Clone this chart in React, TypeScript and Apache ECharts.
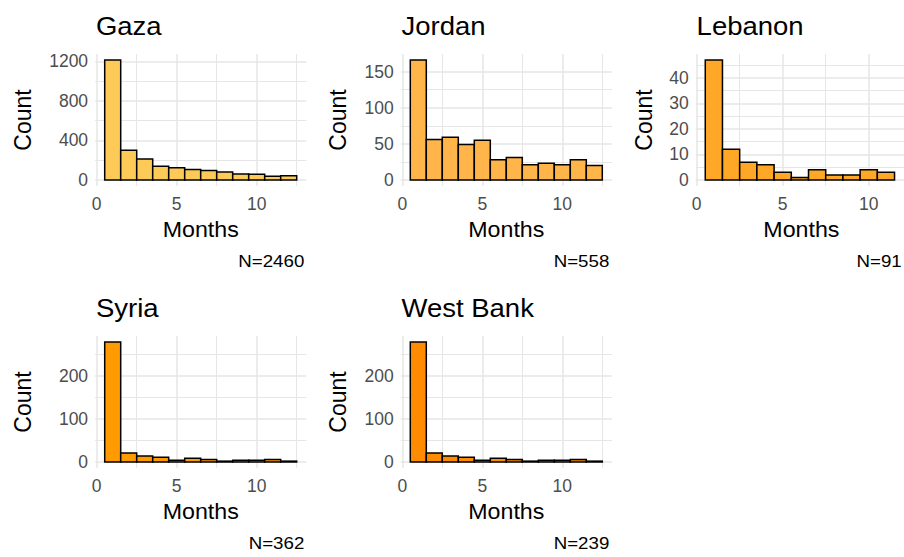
import React, { useEffect, useRef } from "react";
import * as echarts from "echarts";

// Histograms of months, one panel per region
const REGIONS = ["Gaza", "Jordan", "Lebanon", "Syria", "West Bank"];
const SAMPLE_SIZES = [2460, 558, 91, 362, 239];
const FILLS = ["#FECA57", "#FFB54A", "#FFA726", "#FF9A00", "#FF8C00"];

// bin centres (months), bin width 1
const MONTH_BINS = [1, 2, 3, 4, 5, 6, 7, 8, 9, 10, 11, 12];
const BIN_WIDTH = 1;

const GAZA_COUNTS = [1215, 300, 212, 138, 124, 106, 97, 80, 60, 57, 37, 42];
const JORDAN_COUNTS = [166, 56, 59, 49, 55, 28, 31, 21, 23, 21, 28, 20];
const LEBANON_COUNTS = [47, 12, 7, 6, 3, 1, 4, 2, 2, 4, 3];
const SYRIA_COUNTS = [279, 21, 14, 11, 4, 9, 6, 2, 4, 4, 6, 2];
const WEST_BANK_COUNTS = [279, 21, 14, 11, 4, 9, 6, 2, 4, 4, 6, 2];
const COUNTS = [GAZA_COUNTS, JORDAN_COUNTS, LEBANON_COUNTS, SYRIA_COUNTS, WEST_BANK_COUNTS];

// tick labels / grid breaks
const X_BREAKS = [0, 5, 10];
const X_MINOR_BREAKS = [2.5, 7.5, 12.5];
const GAZA_Y_BREAKS = [0, 400, 800, 1200];
const GAZA_Y_MINOR = [200, 600, 1000];
const JORDAN_Y_BREAKS = [0, 50, 100, 150];
const JORDAN_Y_MINOR = [25, 75, 125, 175];
const LEBANON_Y_BREAKS = [0, 10, 20, 30, 40];
const LEBANON_Y_MINOR = [5, 15, 25, 35, 45];
const SYRIA_Y_BREAKS = [0, 100, 200];
const SYRIA_Y_MINOR = [50, 150, 250];
const WEST_BANK_Y_BREAKS = [0, 100, 200];
const WEST_BANK_Y_MINOR = [50, 150, 250];
const Y_BREAKS = [GAZA_Y_BREAKS, JORDAN_Y_BREAKS, LEBANON_Y_BREAKS, SYRIA_Y_BREAKS, WEST_BANK_Y_BREAKS];
const Y_MINOR = [GAZA_Y_MINOR, JORDAN_Y_MINOR, LEBANON_Y_MINOR, SYRIA_Y_MINOR, WEST_BANK_Y_MINOR];

// layout
const PANEL_LEFT = [95.1, 400.7, 695.8, 95.1, 400.7];
const PANEL_TOP = [54, 54, 54, 336, 336];
const PANEL_W = 211.2;
const PANEL_H = 132;
const COUNT_X = [22.5, 338, 644, 22.5, 337.5];
const CAPTION_RIGHT = [304.3, 609.3, 901.7, 304.3, 609.3];

const FONT = "'Liberation Sans', Arial, Helvetica, sans-serif";
const GRID_COLOR = "#E6E6E6";
const TICK_COLOR = "#4D4D4D";

function buildOption() {
  const grid: any[] = [];
  const xAxis: any[] = [];
  const yAxis: any[] = [];
  const series: any[] = [];
  const graphic: any[] = [];

  REGIONS.forEach((region, i) => {
    const counts = COUNTS[i];
    const n = counts.length;
    const lo = MONTH_BINS[0] - BIN_WIDTH / 2;
    const hi = MONTH_BINS[n - 1] + BIN_WIDTH / 2;
    const xPad = (hi - lo) * 0.05;
    const xMin = lo - xPad;
    const xMax = hi + xPad;
    const yTop = Math.max(...counts);
    const yMin = -yTop * 0.05;
    const yMax = yTop * 1.05;

    grid.push({ left: PANEL_LEFT[i], top: PANEL_TOP[i], width: PANEL_W, height: PANEL_H, containLabel: false });

    const labelStyle = {
      fontSize: 17.5,
      color: TICK_COLOR,
      fontFamily: FONT,
      formatter: (v: number) => String(v),
    };
    xAxis.push({
      type: "value", gridIndex: i, min: xMin, max: xMax,
      axisLine: { show: false },
      axisTick: { show: false, customValues: X_BREAKS },
      axisLabel: { ...labelStyle, customValues: X_BREAKS, margin: 9 },
      splitLine: { show: true, lineStyle: { color: GRID_COLOR, width: 1.5 } },
    });
    xAxis.push({
      type: "value", gridIndex: i, min: xMin, max: xMax, position: "bottom",
      axisLine: { show: false },
      axisTick: { show: false, customValues: X_MINOR_BREAKS.filter((v) => v <= xMax) },
      axisLabel: { show: false },
      splitLine: { show: true, lineStyle: { color: GRID_COLOR, width: 1 } },
    });
    yAxis.push({
      type: "value", gridIndex: i, min: yMin, max: yMax,
      axisLine: { show: false },
      axisTick: { show: false, customValues: Y_BREAKS[i] },
      axisLabel: { ...labelStyle, customValues: Y_BREAKS[i], margin: 7 },
      splitLine: { show: true, lineStyle: { color: GRID_COLOR, width: 1.5 } },
    });
    yAxis.push({
      type: "value", gridIndex: i, min: yMin, max: yMax, position: "left",
      axisLine: { show: false },
      axisTick: { show: false, customValues: Y_MINOR[i].filter((v) => v <= yMax) },
      axisLabel: { show: false },
      splitLine: { show: true, lineStyle: { color: GRID_COLOR, width: 1 } },
    });

    const fill = FILLS[i];
    series.push({
      type: "custom",
      name: region,
      xAxisIndex: i * 2,
      yAxisIndex: i * 2,
      z: 5,
      data: counts.map((c, k) => [MONTH_BINS[k] - BIN_WIDTH / 2, MONTH_BINS[k] + BIN_WIDTH / 2, c]),
      encode: { x: [0, 1], y: 2 },
      renderItem: (_params: any, api: any) => {
        const p0 = api.coord([api.value(0), api.value(2)]);
        const p1 = api.coord([api.value(1), 0]);
        return {
          type: "rect",
          shape: { x: p0[0], y: p0[1], width: p1[0] - p0[0], height: p1[1] - p0[1] },
          style: { fill, stroke: "#000000", lineWidth: 1.5 },
        };
      },
    });

    const top = PANEL_TOP[i];
    const left = PANEL_LEFT[i];
    // panel title
    graphic.push({
      type: "text", x: left + 0.8, y: top - 27.5, scaleX: 1.1,
      style: { text: region, fontSize: 25, fontFamily: FONT, fill: "#000", align: "left", verticalAlign: "middle" },
    });
    // y axis title
    graphic.push({
      type: "text", x: COUNT_X[i], y: top + PANEL_H / 2, rotation: Math.PI / 2,
      style: { text: "Count", fontSize: 23, fontFamily: FONT, fill: "#000", align: "center", verticalAlign: "middle" },
    });
    // x axis title
    graphic.push({
      type: "text", x: left + PANEL_W / 2, y: top + 176, scaleX: 1.08,
      style: { text: "Months", fontSize: 21.5, fontFamily: FONT, fill: "#000", align: "center", verticalAlign: "middle" },
    });
    // sample size caption
    graphic.push({
      type: "text", x: CAPTION_RIGHT[i], y: top + 207.5, scaleX: 1.1,
      style: { text: "N=" + SAMPLE_SIZES[i], fontSize: 17, fontFamily: FONT, fill: "#000", align: "right", verticalAlign: "middle" },
    });
  });

  return { animation: false, backgroundColor: "#ffffff", grid, xAxis, yAxis, series, graphic };
}

export default function App() {
  const ref = useRef<HTMLDivElement>(null);
  useEffect(() => {
    if (!ref.current) return;
    const chart = echarts.init(ref.current, null, { renderer: "svg" });
    chart.setOption(buildOption());
    return () => chart.dispose();
  }, []);
  return (
    <div
      ref={ref}
      style={{ position: "absolute", left: 0, top: 0, width: 904, height: 557, background: "#fff" }}
    />
  );
}
